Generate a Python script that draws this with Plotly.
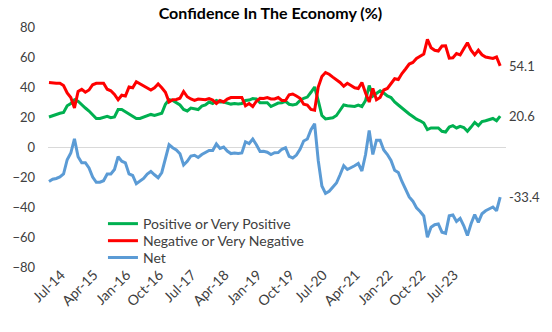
import pandas as pd
import plotly.graph_objects as go

# Monthly survey shares (%), starting July 2014
positive = [
    20, 21, 21.5, 22.5, 23, 27.5, 29, 31.5, 30.5, 28, 26, 24, 21.5, 19, 19, 20, 20.5, 19.5, 20, 25,
    25, 23.5, 22, 20.5, 19, 19, 20, 21, 21.7, 21, 21.5, 22.5, 28.5, 31.5, 31, 29.7, 28, 25, 24,
    26, 25.5, 25, 27.3, 28, 30, 29, 31, 30, 30, 29.3, 28.6, 29, 28.7, 29, 31, 31.3, 32.3, 32, 29.5,
    29.5, 29.5, 27, 28.2, 29.3, 29.5, 30.5, 28.5, 28, 28.6, 31, 32.5, 33.3, 36.5, 40, 31, 21, 18.7,
    19, 19.5, 21,
    24.5, 28, 27.5, 27, 27, 28, 27, 31, 41, 34, 36, 37.5, 36, 34, 33, 30, 28, 26, 23.5, 22,
    20.3, 18.5, 17.5, 16, 11.6, 12.7, 12.7, 12.7, 10.5, 10, 13.3, 14.2, 12.7, 13.8, 13, 10.5, 13.3,
    16.4, 14.2, 17, 17.5, 18.5, 19, 17.5, 20.6,
]
negative = [
    43, 42.5, 42.5, 42.5, 41, 36, 33, 26, 37, 38.5, 36.5, 38, 41.5, 42.5, 42.5, 42.5, 38.5, 37.5, 35,
    31.5, 34.5, 34, 40, 39.5, 43.5, 42, 41, 39, 38, 39.5, 42, 39.5, 36.5, 30, 31.5, 31.7, 32.5, 37,
    33.5,
    32, 31, 32, 32, 31.5, 32.3, 31.3, 29, 31, 30, 32, 33, 33, 33, 33, 27.5, 29, 27, 30.5, 32.5,
    32.3, 33, 32, 32, 33, 31, 31, 34.8, 35.3, 34, 32.5, 28.5, 28, 25, 24.5, 40, 47, 49.6, 48.5,
    46.6, 45,
    43, 40.5, 42.5, 41, 39.5, 39, 43, 36, 30, 39, 31.5, 33, 38, 39, 42, 45.5, 45, 49, 52, 55.3,
    56.4, 59, 60.5, 62, 71.7, 66.2, 64.5, 64, 67.3, 67.5, 59.2, 59.5, 62.3, 61.4, 65.5, 69.5, 64.5,
    61.4, 64.5, 61.5, 60, 59.5, 59, 60, 54.1,
]
net = [
    -23, -21.5, -21, -20, -18, -8.5, -4, 5.5, -6.5, -10.5, -10.5, -14, -20, -23.5, -23.5, -22.5,
    -18, -18, -15, -6.5, -9.5, -10.5, -18, -19, -24.5, -23, -21, -18, -16.3, -18.5, -20.5, -17, -8,
    1.5, -0.5, -2, -4.5, -12, -9.5,
    -6, -5.5, -7, -5, -3.5, -2.3, -2.3, 2, -1, 0, -2.7, -4.4, -4, -4.3, -4, 3.5, 2.3, 5.3, 1.5, -3,
    -2.8, -3.5, -5, -3.8, -3.7, -1.5, -0.5, -6.3, -7.3, -5.4, -1.5, 4, 5.3, 11.5, 15.5, -9, -26,
    -30.9, -29.5, -27.1, -24,
    -18.5, -12.5, -15, -14, -12.5, -11, -16, -5, 11, -5, 4.5, 4.5, -2, -5, -9, -15.5, -17, -23,
    -28.5, -33.3, -36.1, -40.5, -43, -46, -60.1, -53.5, -51.8, -51.3, -56.8, -57.5, -45.9, -45.3,
    -49.6, -47.6, -52.5, -59, -51.2, -45, -50.3, -44.5, -42.5, -41, -40, -42.5, -33.4,
]

tick_labels = ["Jul-14", "Apr-15", "Jan-16", "Oct-16", "Jul-17", "Apr-18", "Jan-19",
               "Oct-19", "Jul-20", "Apr-21", "Jan-22", "Oct-22", "Jul-23"]
y_ticks = [-80, -60, -40, -20, 0, 20, 40, 60, 80]

months = list(pd.date_range("2014-07-01", periods=len(positive), freq="MS").strftime("%b-%y"))

series = [
    ("Positive or Very Positive", positive, "#00B050"),
    ("Negative or Very Negative", negative, "#FF0000"),
    ("Net", net, "#5B9BD5"),
]

FONT = "Lato"
TEXT = "#404040"

# one legend box per series so the rows sit close together
legend_ids = ["legend", "legend2", "legend3"]
legend_rows = [0.179, 0.108, 0.038]

fig = go.Figure()
for (name, values, color), lg in zip(series, legend_ids):
    fig.add_trace(go.Scatter(
        x=months, y=values, name=name, mode="lines",
        line=dict(color=color, width=3), legend=lg,
    ))
    fig.add_annotation(
        x=months[-1], y=values[-1], text=f"{values[-1]}",
        showarrow=False, xanchor="left", xshift=7,
        font=dict(family=FONT, size=13, color=TEXT),
    )

legend_style = dict(x=0.12, xanchor="left", yanchor="middle", bgcolor="rgba(0,0,0,0)",
                    font=dict(family=FONT, size=14, color=TEXT), itemwidth=30)
legends = {lg: dict(y=yy, **legend_style) for lg, yy in zip(legend_ids, legend_rows)}

fig.update_layout(
    width=552, height=332,
    margin=dict(l=40, r=46, t=27, b=65),
    paper_bgcolor="white", plot_bgcolor="white",
    title=dict(text="<b>Confidence In The Economy (%)</b>", x=0.49, xanchor="center",
               y=0.961, yanchor="middle",
               font=dict(family=FONT, size=16, color="#000000")),
    font=dict(family=FONT, size=13, color=TEXT),
    showlegend=True,
    **legends,
    xaxis=dict(type="category", range=[-0.27, len(positive) + 0.6],
               tickmode="array", tickvals=tick_labels, ticktext=tick_labels,
               tickangle=-45, ticklabelshift=12, ticklabelstandoff=-4,
               showgrid=False, zeroline=False, showline=False,
               ticks="", tickfont=dict(family=FONT, size=14, color=TEXT)),
    yaxis=dict(range=[-80, 80], tickmode="array", tickvals=y_ticks,
               showgrid=False, zeroline=True, zerolinecolor="#D9D9D9", zerolinewidth=1,
               showline=False, ticks="", ticklabelstandoff=12,
               tickfont=dict(family=FONT, size=13, color=TEXT)),
)

fig.write_html("out.html")
